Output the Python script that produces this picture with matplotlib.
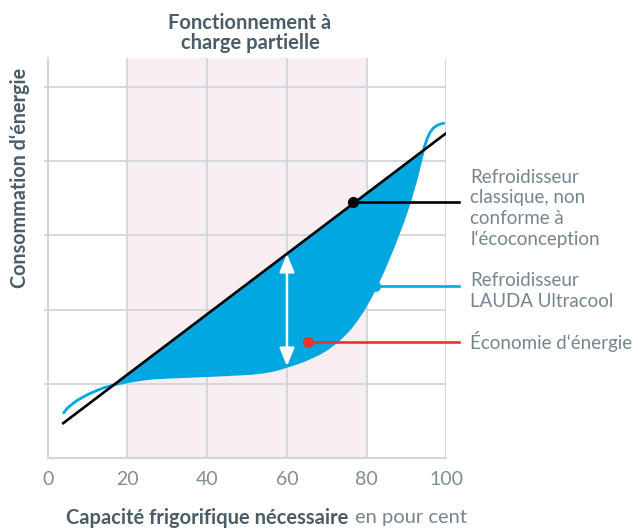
import numpy as np
import matplotlib
matplotlib.use("Agg")
import matplotlib.pyplot as plt

plt.rcParams['font.family'] = ['Lato', 'DejaVu Sans']

# data
x_ticks = [0, 20, 40, 60, 80, 100]
y_grid = [1, 2, 3, 4, 5]
partial_load = (20, 80)

black_x = [3.9, 100]
black_y = [0.47, 4.38]

blue_x = [4.0, 5.0, 6.2, 7.5, 8.8, 10.2, 11.9, 14.0, 16.9, 20.2, 23.5, 26.9, 30.7,
          35.0, 39.0, 43.0, 47.4, 51.0, 54.0, 56.5, 58.2, 59.9, 62.0, 64.1, 66.0,
          68.2, 70.3, 72.4, 74.2, 75.8, 77.5, 79.1, 80.8, 82.0, 84.1, 86.6,
          89.1, 90.8, 92.5, 93.7, 94.5, 95.2, 95.9, 96.7, 97.6, 98.5, 99.3]
blue_y = [0.61, 0.675, 0.73, 0.78, 0.82, 0.86, 0.90, 0.945, 0.99, 1.03, 1.06, 1.08, 1.09,
          1.10, 1.108, 1.118, 1.13, 1.14, 1.158, 1.182, 1.205, 1.235, 1.27, 1.31, 1.355,
          1.41, 1.48, 1.565, 1.655, 1.745, 1.865, 1.995, 2.155, 2.28, 2.52, 2.84,
          3.19, 3.46, 3.78, 4.04, 4.20, 4.31, 4.39, 4.445, 4.48, 4.50, 4.51]

# annotation anchors
black_dot = (76.6, 3.45)
blue_dot = (82.0, 2.32)
red_dot = (65.3, 1.57)
arrow_x = 60

labels = ["Refroidisseur\nclassique, non\nconforme à\nl‘écoconception",
          "Refroidisseur\nLAUDA Ultracool",
          "Économie d‘énergie"]

BLUE = '#00a7e1'
RED = '#e8352e'
GRID = '#d0d6dc'
PINK = '#f6eef1'
DARK = '#4b5c69'
LIGHT = '#75858f'

fig = plt.figure(figsize=(6.38, 5.30), dpi=100)
ax = fig.add_axes([0.0748, 0.1358, 0.6250, 0.7548])
ax.set_xlim(0, 100)
ax.set_ylim(0, 5.39)

ax.axvspan(*partial_load, color=PINK, zorder=0, lw=0)
for xv in x_ticks[1:]:
    ax.axvline(xv, color=GRID, lw=1.3, zorder=1)
for yv in y_grid:
    ax.axhline(yv, color=GRID, lw=1.3, zorder=1)

bx = np.array(blue_x)
by = np.array(blue_y)
kline = np.interp(bx, black_x, black_y)
ax.fill_between(bx, kline, by, where=by <= kline + 0.02, interpolate=True,
                color=BLUE, lw=0, zorder=2)
ax.plot(bx, by, color=BLUE, lw=2.0, zorder=3, solid_capstyle='round',
        solid_joinstyle='round')
ax.plot(black_x, black_y, color='black', lw=1.9, zorder=4)

# white double arrow
top = np.interp(arrow_x, black_x, black_y)
bot = np.interp(arrow_x, bx, by)
ax.annotate('', xy=(arrow_x, bot), xytext=(arrow_x, top),
            arrowprops=dict(arrowstyle='<|-|>,head_length=1.1,head_width=0.45',
                            color='white', lw=1.8, shrinkA=0, shrinkB=0),
            zorder=5)

# callout lines
x_end = 103.2
for (px, py), col in [(black_dot, 'black'), (blue_dot, BLUE), (red_dot, RED)]:
    ax.plot([px, x_end], [py, py], color=col, lw=1.9, zorder=6, clip_on=False)
    ax.plot(px, py, 'o', color=col, ms=7, zorder=7, clip_on=False)

tx = 106.0
ax.text(tx, black_dot[1] + 0.45, labels[0], ha='left', va='top', fontsize=13.5,
        color=LIGHT, linespacing=1.25, clip_on=False)
ax.text(tx, blue_dot[1] + 0.18, labels[1], ha='left', va='top', fontsize=13.5,
        color=LIGHT, linespacing=1.25, clip_on=False)
ax.text(tx, red_dot[1], labels[2], ha='left', va='center', fontsize=13.5,
        color=LIGHT, clip_on=False)

for s in ['top', 'right']:
    ax.spines[s].set_visible(False)
for s in ['left', 'bottom']:
    ax.spines[s].set_color(GRID)
    ax.spines[s].set_linewidth(1.5)

ax.set_xticks(x_ticks)
ax.set_xticklabels([str(v) for v in x_ticks])
ax.set_yticks(y_grid)
ax.set_yticklabels([])
ax.tick_params(axis='x', length=0, pad=9, labelsize=14, labelcolor='#7f8e98')
ax.tick_params(axis='y', length=3, width=1.3, color=GRID)

fig.text(250 / 638, 1 - 33 / 530, "Fonctionnement à\ncharge partielle", ha='center',
         va='center', fontsize=14.5, fontweight='bold', color=DARK, linespacing=1.0)
fig.text(20 / 638, 1 - 178 / 530, "Consommation d‘énergie", rotation=90, ha='center',
         va='center', fontsize=14.2, fontweight='bold', color=DARK)
fig.text(348 / 638, 1 - 518 / 530, "Capacité frigorifique nécessaire", ha='right',
         va='center', fontsize=14.5, fontweight='bold', color=DARK)
fig.text(355 / 638, 1 - 518 / 530, "en pour cent", ha='left', va='center',
         fontsize=14.5, color=LIGHT)

fig.savefig('out.png', dpi=100)
